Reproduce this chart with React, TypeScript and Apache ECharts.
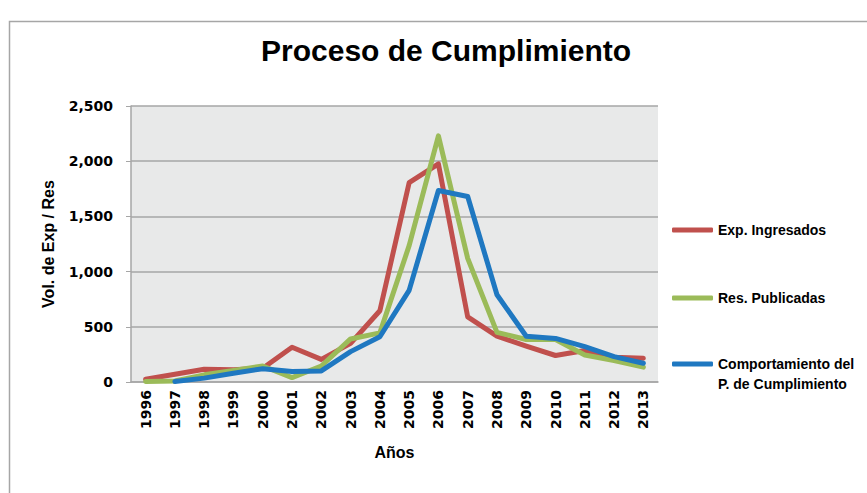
import React, { useEffect, useRef } from "react";
import * as echarts from "echarts";

const years = ["1996","1997","1998","1999","2000","2001","2002","2003","2004","2005","2006","2007","2008","2009","2010","2011","2012","2013"];
const expIngresados = [25, 70, 115, 110, 125, 315, 205, 350, 645, 1805, 1975, 590, 415, 325, 240, 285, 225, 215];
const resPublicadas = [5, 10, 65, 105, 145, 40, 145, 390, 445, 1235, 2230, 1120, 450, 385, 385, 245, 195, 135];
const comportamiento = [null, 5, 35, 80, 120, 95, 100, 275, 410, 830, 1735, 1680, 790, 415, 395, 320, 230, 170];
const seriesNames = ["Exp. Ingresados", "Res. Publicadas", "Comportamiento del P. de Cumplimiento"];
const colors = ["#C0504D", "#9BBB59", "#1F78C1"];

export default function App() {
  const ref = useRef<HTMLDivElement>(null);
  useEffect(() => {
    if (!ref.current) return;
    const chart = echarts.init(ref.current, undefined, { renderer: "svg" });
    const legendText = { fontFamily: "Liberation Sans", fontWeight: "bold", fontSize: 14, color: "#000", lineHeight: 20 };
    const mkLegend = (name: string, top: number, formatter?: any) => ({
      data: [name],
      left: 667,
      top,
      orient: "vertical",
      icon: "roundRect",
      itemWidth: 41,
      itemHeight: 5,
      itemGap: 3,
      formatter,
      textStyle: legendText,
    });
    const mkSeries = (name: string, data: any[], color: string) => ({
      name,
      type: "line",
      data,
      symbol: "none",
      connectNulls: false,
      itemStyle: { color },
      lineStyle: { color, width: 5, join: "round", cap: "round" },
    });
    chart.setOption({
      animation: false,
      backgroundColor: "#fff",
      title: {
        text: "Proceso de Cumplimiento",
        left: 256,
        top: 30,
        textStyle: { fontFamily: "Liberation Sans", fontWeight: "bold", fontSize: 30, color: "#000" },
      },
      graphic: [
        {
          type: "polyline",
          shape: { points: [[9.5, 900], [9.5, 21.5], [900, 21.5]] },
          style: { stroke: "#A6A6A6", lineWidth: 1.5, fill: "none" },
          silent: true,
        },
      ],
      legend: [
        mkLegend(seriesNames[0], 215),
        mkLegend(seriesNames[1], 283),
        mkLegend(seriesNames[2], 329, () => "\nComportamiento del\nP. de Cumplimiento"),
      ],
      grid: {
        left: 131,
        right: 209,
        top: 106,
        bottom: 111,
        show: true,
        backgroundColor: "#E8E9E9",
        borderWidth: 0,
      },
      xAxis: {
        type: "category",
        data: years,
        boundaryGap: true,
        name: "Años",
        nameLocation: "middle",
        nameGap: 62,
        nameTextStyle: { fontFamily: "Liberation Sans", fontWeight: "bold", fontSize: 16, color: "#000" },
        axisLine: { show: true, lineStyle: { color: "#A6A6A6", width: 1.5 } },
        axisTick: { show: false },
        axisLabel: {
          rotate: 90,
          margin: 8,
          interval: 0,
          fontFamily: "DejaVu Sans",
          fontWeight: "bold",
          fontSize: 14,
          color: "#000",
        },
      },
      yAxis: {
        type: "value",
        min: 0,
        max: 2500,
        interval: 500,
        name: "Vol. de Exp / Res",
        nameLocation: "middle",
        nameGap: 75,
        nameTextStyle: { fontFamily: "Liberation Sans", fontWeight: "bold", fontSize: 16, color: "#000" },
        axisLine: { show: true, lineStyle: { color: "#A6A6A6", width: 1.5 } },
        axisTick: { show: true, length: 5, lineStyle: { color: "#A6A6A6" } },
        splitLine: { show: true, lineStyle: { color: "#A6A6A6", width: 1.5 } },
        axisLabel: {
          margin: 18,
          fontFamily: "DejaVu Sans",
          fontWeight: "bold",
          fontSize: 14,
          color: "#000",
          formatter: (v: number) => v.toLocaleString("en-US"),
        },
      },
      series: [
        mkSeries(seriesNames[0], expIngresados, colors[0]),
        mkSeries(seriesNames[1], resPublicadas, colors[1]),
        mkSeries(seriesNames[2], comportamiento, colors[2]),
      ],
    });
    return () => chart.dispose();
  }, []);
  return (
    <div
      ref={ref}
      style={{ position: "fixed", left: 0, top: 0, width: 867, height: 493 }}
    />
  );
}
